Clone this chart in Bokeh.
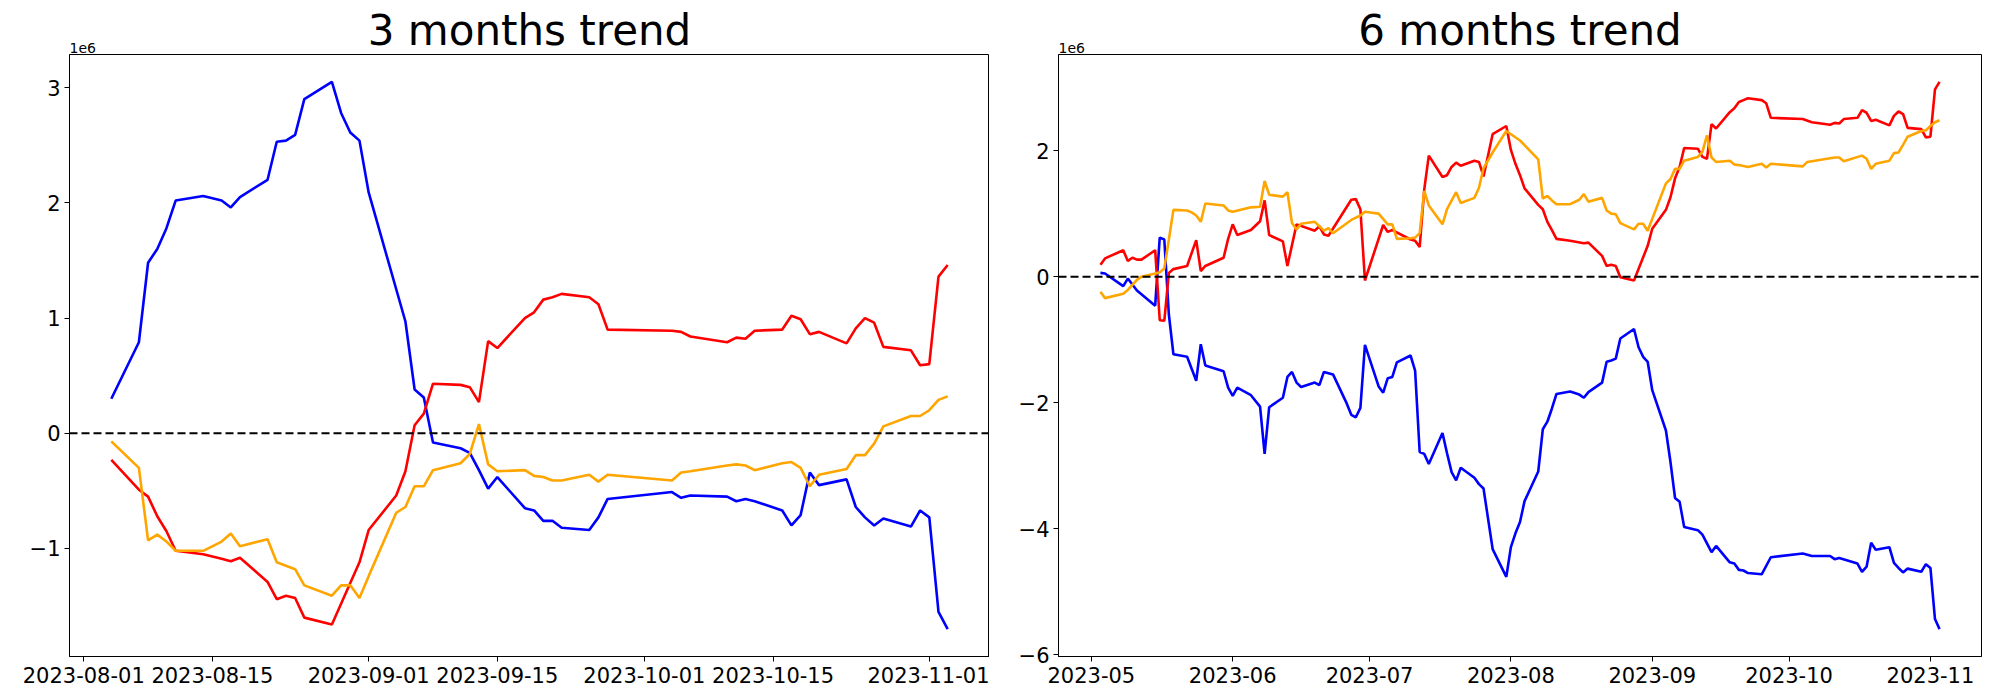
import pandas as pd
from bokeh.plotting import figure
from bokeh.layouts import row
from bokeh.models import (ColumnDataSource, Range1d, FixedTicker, DatetimeTickFormatter,
                          CustomJSTickFormatter, Span, Label)
from bokeh.embed import file_html
from bokeh.resources import INLINE

FONT = "DejaVu Sans"

# ---------------- 3 months panel (values in units of 1e6) ----------------
dates_3m = ["2023-08-04", "2023-08-07", "2023-08-08", "2023-08-09", "2023-08-10", "2023-08-11",
            "2023-08-14", "2023-08-16", "2023-08-17", "2023-08-18", "2023-08-21", "2023-08-22",
            "2023-08-23", "2023-08-24", "2023-08-25", "2023-08-28", "2023-08-29", "2023-08-30",
            "2023-08-31", "2023-09-01", "2023-09-04", "2023-09-05", "2023-09-06", "2023-09-07",
            "2023-09-08", "2023-09-11", "2023-09-12", "2023-09-13", "2023-09-14", "2023-09-15",
            "2023-09-18", "2023-09-19", "2023-09-20", "2023-09-21", "2023-09-22", "2023-09-25",
            "2023-09-26", "2023-09-27", "2023-10-04", "2023-10-05", "2023-10-06", "2023-10-10",
            "2023-10-11", "2023-10-12", "2023-10-13", "2023-10-16", "2023-10-17", "2023-10-18",
            "2023-10-19", "2023-10-20", "2023-10-23", "2023-10-24", "2023-10-25", "2023-10-26",
            "2023-10-27", "2023-10-30", "2023-10-31", "2023-11-01", "2023-11-02", "2023-11-03"]
blue_3m = [0.30, 0.79, 1.48, 1.60, 1.78, 2.02, 2.06, 2.02, 1.96, 2.05, 2.20, 2.53, 2.54, 2.59, 2.90,
           3.05, 2.78, 2.61, 2.54,
           2.09, 1.25, 0.97, 0.38, 0.31, -0.08, -0.13, -0.17, -0.32, -0.48, -0.38, -0.65, -0.67,
           -0.76, -0.76, -0.82, -0.84, -0.73, -0.57,
           -0.51, -0.56, -0.54, -0.55, -0.59, -0.57, -0.59, -0.67, -0.80, -0.71, -0.34, -0.45,
           -0.40, -0.64, -0.73, -0.80, -0.74, -0.81, -0.67,
           -0.73, -1.55, -1.70]
red_3m = [-0.23, -0.49, -0.55, -0.72, -0.85, -1.02, -1.05, -1.09, -1.11, -1.08, -1.29, -1.44, -1.41,
          -1.43, -1.60, -1.66, -1.48, -1.30, -1.12,
          -0.84, -0.54, -0.33, 0.07, 0.17, 0.43, 0.42, 0.40, 0.27, 0.80, 0.74, 1.00, 1.05, 1.16,
          1.18, 1.21, 1.18, 1.12, 0.90,
          0.89, 0.88, 0.84, 0.79, 0.83, 0.82, 0.89, 0.90, 1.02, 0.99, 0.86, 0.88, 0.78, 0.91,
          1.00, 0.96, 0.75, 0.72, 0.59,
          0.60, 1.36, 1.46]
orange_3m = [-0.07, -0.30, -0.93, -0.88, -0.94, -1.02, -1.02, -0.94, -0.87, -0.98, -0.92, -1.12,
             -1.15, -1.18, -1.32, -1.41, -1.32, -1.32, -1.43,
             -1.24, -0.69, -0.64, -0.46, -0.46, -0.32, -0.26, -0.18, 0.08, -0.27, -0.33, -0.32,
             -0.37, -0.38, -0.41, -0.41, -0.36, -0.42, -0.36,
             -0.41, -0.34, -0.33, -0.28, -0.27, -0.28, -0.32, -0.26, -0.25, -0.30, -0.46, -0.36,
             -0.31, -0.19, -0.19, -0.09, 0.06, 0.15, 0.15,
             0.20, 0.29, 0.32]

# ---------------- 6 months panel (values in units of 1e6) ----------------
red_6m_dates = ["05-03", "05-04", "05-08", "05-09", "05-10", "05-11", "05-12", "05-15", "05-16",
                "05-17", "05-18", "05-19", "05-22", "05-24", "05-25", "05-26", "05-30", "05-31",
                "06-01", "06-02", "06-05", "06-07", "06-08", "06-09", "06-12", "06-13", "06-15",
                "06-19", "06-20", "06-21", "06-22", "06-27", "06-28", "06-29", "06-30", "07-04",
                "07-05", "07-06", "07-10", "07-11", "07-12", "07-13", "07-14", "07-17", "07-18",
                "07-19", "07-20", "07-21", "07-24", "07-25", "07-26", "07-28", "07-31", "08-01",
                "08-02", "08-03", "08-04", "08-07", "08-08", "08-09", "08-10", "08-11", "08-14",
                "08-17", "08-18", "08-21", "08-22", "08-23", "08-24", "08-25", "08-28", "08-31",
                "09-01", "09-04", "09-05", "09-06", "09-07", "09-08", "09-11", "09-12", "09-13",
                "09-14", "09-15", "09-18", "09-19", "09-20", "09-21", "09-22", "09-25", "09-26",
                "09-27", "10-04", "10-06", "10-10", "10-11", "10-12", "10-13", "10-16", "10-17",
                "10-18", "10-19", "10-20", "10-23", "10-24", "10-25", "10-26", "10-27", "10-30",
                "10-31", "11-01", "11-02", "11-03"]
red_6m = [0.19, 0.29, 0.42, 0.25, 0.30, 0.27, 0.27, 0.42, -0.69,
          -0.70, 0.06, 0.12, 0.17, 0.58, 0.09, 0.17, 0.30, 0.60,
          0.83, 0.66, 0.74, 0.88, 1.21, 0.66, 0.56, 0.17, 0.83,
          0.73, 0.80, 0.67, 0.65, 1.22, 1.23, 1.07, -0.06, 0.82,
          0.71, 0.74, 0.59, 0.57, 0.47, 1.38, 1.92, 1.58, 1.61,
          1.74, 1.81, 1.76, 1.84, 1.82, 1.59, 2.26, 2.39, 2.01,
          1.79, 1.61, 1.40, 1.14, 1.07, 0.87, 0.74, 0.60, 0.57,
          0.53, 0.54, 0.33, 0.17, 0.19, 0.17, -0.01, -0.06, 0.49,
          0.76, 1.06, 1.26, 1.56, 1.74, 2.04, 2.03, 1.90, 1.87,
          2.42, 2.35, 2.61, 2.67, 2.77, 2.80, 2.83, 2.80, 2.75,
          2.52, 2.50, 2.45, 2.41, 2.44, 2.43, 2.50, 2.52, 2.64,
          2.60, 2.47, 2.49, 2.40, 2.55, 2.62, 2.58, 2.36, 2.34,
          2.21, 2.22, 2.97, 3.09]

orange_6m_dates = ["05-03", "05-04", "05-08", "05-09", "05-11", "05-12", "05-15", "05-16", "05-17",
                   "05-18", "05-19", "05-22", "05-23", "05-24", "05-25", "05-26", "05-30", "05-31",
                   "06-01", "06-05", "06-07", "06-08", "06-09", "06-12", "06-13", "06-14", "06-15",
                   "06-16", "06-19", "06-20", "06-21", "06-22", "06-23", "06-27", "06-29", "06-30",
                   "07-03", "07-05", "07-06", "07-07", "07-10", "07-11", "07-12", "07-13", "07-14",
                   "07-17", "07-18", "07-20", "07-21", "07-24", "07-25", "07-26", "07-28", "07-31",
                   "08-03", "08-07", "08-08", "08-09", "08-10", "08-11", "08-14", "08-16", "08-17",
                   "08-18", "08-21", "08-22", "08-23", "08-24", "08-25", "08-28", "08-29", "08-30",
                   "08-31", "09-04", "09-05", "09-06", "09-07", "09-08", "09-11", "09-12", "09-13",
                   "09-14", "09-15", "09-18", "09-19", "09-20", "09-22", "09-25", "09-26", "09-27",
                   "10-04", "10-05", "10-11", "10-12", "10-13", "10-17", "10-18", "10-19", "10-20",
                   "10-23", "10-24", "10-25", "10-26", "10-27", "10-30", "10-31", "11-01", "11-02",
                   "11-03"]
orange_6m = [-0.24, -0.34, -0.27, -0.21, -0.05, 0.00, 0.05, 0.07, 0.13,
             0.59, 1.06, 1.05, 1.02, 0.97, 0.87, 1.16, 1.13, 1.05,
             1.03, 1.10, 1.11, 1.52, 1.30, 1.27, 1.34, 0.85, 0.75,
             0.84, 0.87, 0.80, 0.73, 0.77, 0.69, 0.90, 0.97, 1.03,
             1.00, 0.83, 0.83, 0.60, 0.61, 0.62, 0.69, 1.36, 1.13,
             0.83, 1.07, 1.34, 1.17, 1.25, 1.41, 1.72, 1.97, 2.31,
             2.16, 1.86, 1.24, 1.28, 1.21, 1.15, 1.15, 1.22, 1.31,
             1.19, 1.25, 1.05, 1.00, 0.99, 0.85, 0.75, 0.84, 0.84,
             0.73, 1.48, 1.55, 1.71, 1.71, 1.84, 1.90, 1.98, 2.24,
             1.89, 1.82, 1.84, 1.78, 1.77, 1.74, 1.79, 1.73, 1.79,
             1.75, 1.82, 1.89, 1.89, 1.83, 1.92, 1.87, 1.71, 1.79,
             1.84, 1.96, 1.97, 2.09, 2.22, 2.31, 2.32, 2.39, 2.45,
             2.48]

blue_6m_dates = ["05-03", "05-04", "05-08", "05-09", "05-11", "05-15", "05-16", "05-17", "05-18",
                 "05-19", "05-22", "05-24", "05-25", "05-26", "05-30", "05-31", "06-01", "06-02",
                 "06-05", "06-07", "06-08", "06-09", "06-12", "06-13", "06-14", "06-15", "06-16",
                 "06-19", "06-20", "06-21", "06-23", "06-26", "06-27", "06-28", "06-29", "06-30",
                 "07-03", "07-04", "07-05", "07-06", "07-07", "07-10", "07-11", "07-12", "07-13",
                 "07-14", "07-17", "07-18", "07-19", "07-20", "07-21", "07-24", "07-25", "07-26",
                 "07-28", "07-31", "08-01", "08-02", "08-03", "08-04", "08-07", "08-08", "08-09",
                 "08-10", "08-11", "08-14", "08-16", "08-17", "08-18", "08-21", "08-22", "08-23",
                 "08-24", "08-25", "08-28", "08-29", "08-30", "08-31", "09-01", "09-04", "09-05",
                 "09-06", "09-07", "09-08", "09-11", "09-12", "09-13", "09-14", "09-15", "09-18",
                 "09-19", "09-20", "09-21", "09-22", "09-25", "09-27", "10-04", "10-06", "10-10",
                 "10-11", "10-12", "10-16", "10-17", "10-18", "10-19", "10-20", "10-23", "10-24",
                 "10-25", "10-26", "10-27", "10-30", "10-31", "11-01", "11-02", "11-03"]
blue_6m = [0.06, 0.05, -0.15, -0.03, -0.22, -0.46, 0.62, 0.59, -0.60,
           -1.23, -1.27, -1.65, -1.07, -1.41, -1.50, -1.76, -1.89, -1.76,
           -1.88, -2.06, -2.81, -2.07, -1.92, -1.59, -1.51, -1.68, -1.75,
           -1.68, -1.72, -1.51, -1.55, -2.01, -2.19, -2.23, -2.08, -1.08,
           -1.74, -1.84, -1.61, -1.59, -1.36, -1.25, -1.49, -2.78, -2.81,
           -2.97, -2.48, -2.80, -3.10, -3.23, -3.03, -3.19, -3.29, -3.36,
           -4.32, -4.76, -4.29, -4.07, -3.89, -3.56, -3.09, -2.42, -2.30,
           -2.09, -1.86, -1.82, -1.87, -1.92, -1.83, -1.68, -1.35, -1.33,
           -1.30, -0.98, -0.83, -1.12, -1.27, -1.35, -1.80, -2.44, -2.94,
           -3.51, -3.57, -3.97, -4.02, -4.09, -4.23, -4.37, -4.27, -4.53,
           -4.55, -4.65, -4.66, -4.70, -4.72, -4.45, -4.39, -4.43, -4.43,
           -4.48, -4.46, -4.55, -4.68, -4.60, -4.22, -4.33, -4.29, -4.54,
           -4.62, -4.69, -4.63, -4.68, -4.56, -4.62, -5.43, -5.59]

xticks_3m = ["2023-08-01", "2023-08-15", "2023-09-01", "2023-09-15", "2023-10-01", "2023-10-15", "2023-11-01"]
xticks_6m = ["2023-05-01", "2023-06-01", "2023-07-01", "2023-08-01", "2023-09-01", "2023-10-01", "2023-11-01"]
yticks_3m = [-1, 0, 1, 2, 3]
yticks_6m = [-6, -4, -2, 0, 2]

COLORS = {"blue": "blue", "red": "red", "orange": "orange"}


def ms(ts):
    return pd.Timestamp(ts).value / 1e6


def fmt_all(f):
    keys = ["microseconds", "milliseconds", "seconds", "minsec", "minutes", "hourmin",
            "hours", "days", "months", "years"]
    return DatetimeTickFormatter(**{k: f for k in keys})


def panel(title, series, xticks, xfmt, yticks, frame_w, right_border):
    all_x = []
    for d, _, _ in series:
        all_x += [ms(t) for t in d]
    all_y = [v for _, vals, _ in series for v in vals]
    x0, x1 = min(all_x), max(all_x)
    y0, y1 = min(all_y), max(all_y)
    px, py = (x1 - x0) * 0.05, (y1 - y0) * 0.05
    xr = Range1d(x0 - px, x1 + px)
    yr = Range1d(y0 - py, y1 + py)

    p = figure(x_axis_type="datetime", x_range=xr, y_range=yr,
               frame_width=frame_w, frame_height=602,
               min_border_left=60, min_border_right=right_border,
               min_border_top=54, min_border_bottom=35,
               output_backend="svg", toolbar_location=None, background_fill_color="white",
               border_fill_color="white")
    p.title.text = title
    p.title.text_font = FONT
    p.title.text_font_size = "42px"
    p.title.text_font_style = "normal"
    p.title.align = "center"
    p.title.standoff = 0
    p.title.text_color = "black"

    for d, vals, color in series:
        src = ColumnDataSource(dict(x=pd.to_datetime(d), y=vals))
        p.line("x", "y", source=src, line_color=COLORS[color], line_width=2.6)

    p.add_layout(Span(location=0, dimension="width", line_color="black",
                      line_dash="8 4", line_width=2))

    p.xaxis.ticker = FixedTicker(ticks=[ms(t) for t in xticks])
    p.xaxis.formatter = fmt_all(xfmt)
    p.yaxis.ticker = FixedTicker(ticks=yticks)
    p.yaxis.formatter = CustomJSTickFormatter(
        code="return tick < 0 ? '\\u2212' + Math.abs(tick) : String(tick);")
    for ax in (p.xaxis, p.yaxis):
        ax.major_label_text_font = FONT
        ax.major_label_text_font_size = "21px"
        ax.major_label_text_color = "black"
        ax.major_tick_out = 5
        ax.major_tick_in = 0
        ax.minor_tick_out = 0
        ax.minor_tick_in = 0
        ax.axis_line_color = "black"
        ax.major_tick_line_color = "black"
    p.xaxis.major_label_standoff = 5
    p.yaxis.major_label_standoff = 4
    p.grid.grid_line_color = None
    p.outline_line_color = "black"
    p.outline_line_alpha = 1
    p.outline_line_width = 1

    # offset text "1e6" just above the top-left corner of the frame
    # (placed in a side panel so that it is not clipped to the frame)
    p.add_layout(Label(x=xr.start, y=yr.end, text="1e6", text_font=FONT,
                       text_font_size="14px", text_align="left", text_baseline="bottom",
                       y_offset=2, text_color="black"), "left")
    return p


left = panel("3 months trend",
             [(dates_3m, blue_3m, "blue"), (dates_3m, red_3m, "red"), (dates_3m, orange_3m, "orange")],
             xticks_3m, "%Y-%m-%d", yticks_3m, 920, 0)
right = panel("6 months trend",
              [(["2023-" + d for d in blue_6m_dates], blue_6m, "blue"),
               (["2023-" + d for d in red_6m_dates], red_6m, "red"),
               (["2023-" + d for d in orange_6m_dates], orange_6m, "orange")],
              xticks_6m, "%Y-%m", yticks_6m, 923, 10)

layout = row(left, right, spacing=0)
open("out.html", "w").write(file_html(layout, INLINE))
